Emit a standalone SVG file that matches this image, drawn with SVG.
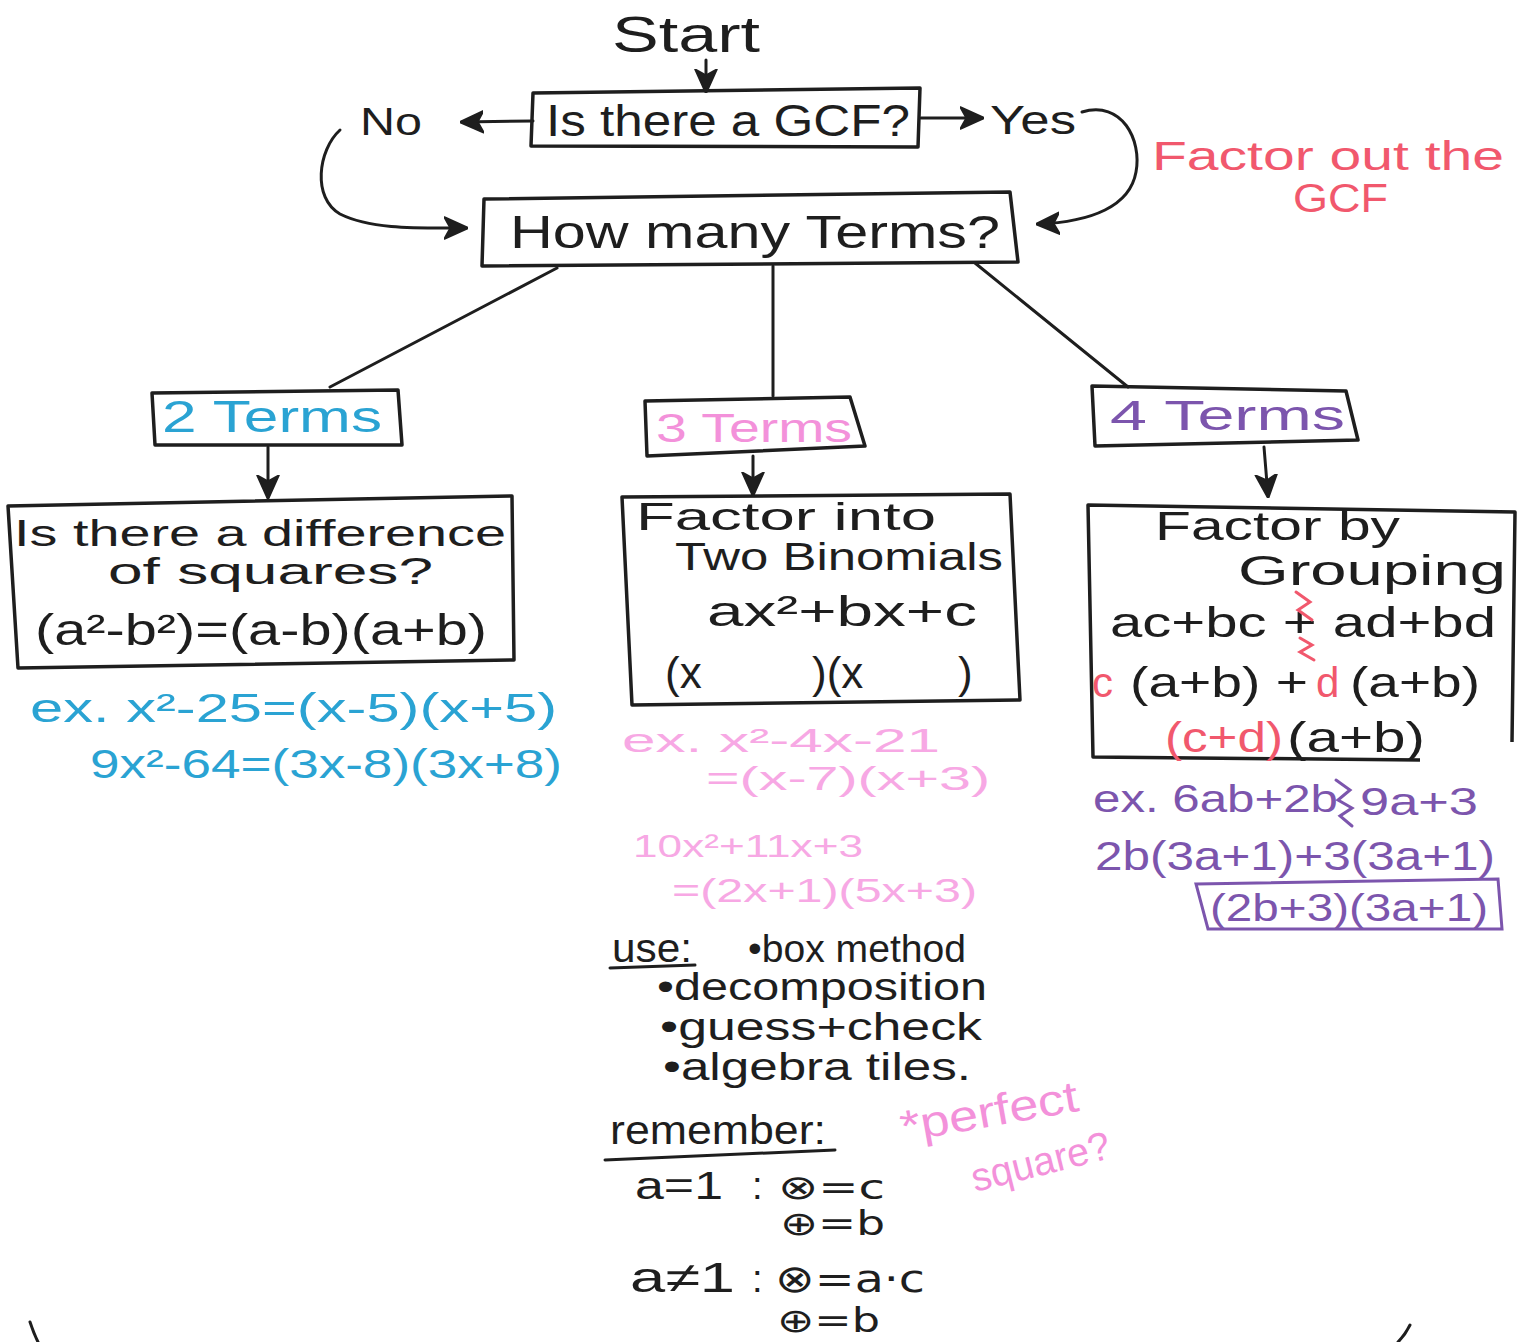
<svg xmlns="http://www.w3.org/2000/svg" width="1517" height="1342" viewBox="0 0 1517 1342">
<style>
.t{font-family:"Liberation Sans","DejaVu Sans",sans-serif;fill:#1e1e1e}
.sym{font-family:"DejaVu Sans","Liberation Sans",sans-serif;fill:#1e1e1e}
.box{fill:none;stroke:#1e1e1e;stroke-width:3.5;stroke-linejoin:round}
.con{fill:none;stroke:#1e1e1e;stroke-width:3;stroke-linecap:round}
.cy{fill:#2aa3d3}
.pk{fill:#f391da}
.lp{fill:#f7a8e4}
.rd{fill:#f1586d}
.pu{fill:#7c55ad}
</style>
<defs>
<marker id="ah" viewBox="0 0 10 10" refX="9" refY="5" markerWidth="24" markerHeight="24" markerUnits="userSpaceOnUse" orient="auto">
<path d="M0,0.5 L10,5 L0,9.5 L2.5,5 z" fill="#1e1e1e" stroke="#1e1e1e" stroke-width="0.8" stroke-linejoin="round"/>
</marker>
</defs>
<rect width="1517" height="1342" fill="#ffffff"/>

<g id="connectors">
<path class="con" d="M706,60 L706,91" marker-end="url(#ah)"/>
<path class="con" d="M533,121 L462,122" marker-end="url(#ah)"/>
<path class="con" d="M921,118 L982,118" marker-end="url(#ah)"/>
<path class="con" d="M340,130 C318,150 312,198 340,214 C372,230 420,228 466,228" marker-end="url(#ah)"/>
<path class="con" d="M1082,112 C1122,100 1142,140 1136,172 C1130,206 1092,222 1038,224" marker-end="url(#ah)"/>
<path class="con" d="M557,268 L330,387"/>
<path class="con" d="M773,266 L773,396"/>
<path class="con" d="M975,263 L1128,387"/>
<path class="con" d="M268,447 L268,497" marker-end="url(#ah)"/>
<path class="con" d="M753,456 L753,494" marker-end="url(#ah)"/>
<path class="con" d="M1264,447 L1268,496" marker-end="url(#ah)"/>
</g>

<g id="start">
<text class="t" x="612" y="52" font-size="50" textLength="148" lengthAdjust="spacingAndGlyphs">Start</text>
</g>

<g id="gcf">
<polygon class="box" points="533,93 920,88 918,147 531,146"/>
<text class="t" x="546" y="136" font-size="44" textLength="364" lengthAdjust="spacingAndGlyphs">Is there a GCF?</text>
</g>

<g id="no">
<text class="t" x="360" y="135" font-size="38" textLength="62" lengthAdjust="spacingAndGlyphs">No</text>
</g>

<g id="yes">
<text class="t" x="990" y="134" font-size="40" textLength="86" lengthAdjust="spacingAndGlyphs">Yes</text>
</g>

<g id="factor-out">
<text class="t rd" x="1152" y="170" font-size="40" textLength="352" lengthAdjust="spacingAndGlyphs">Factor out the</text>
<text class="t rd" x="1293" y="212" font-size="40" textLength="95" lengthAdjust="spacingAndGlyphs">GCF</text>
</g>

<g id="how-many">
<polygon class="box" points="484,199 1010,192 1018,262 482,266"/>
<text class="t" x="510" y="248" font-size="46" textLength="490" lengthAdjust="spacingAndGlyphs">How many Terms?</text>
</g>

<g id="two-terms">
<polygon class="box" points="152,393 398,390 402,445 155,445"/>
<text class="t cy" x="162" y="432" font-size="44" textLength="220" lengthAdjust="spacingAndGlyphs">2 Terms</text>
</g>

<g id="three-terms">
<polygon class="box" points="645,401 850,397 865,446 647,456"/>
<text class="t pk" x="656" y="442" font-size="40" textLength="196" lengthAdjust="spacingAndGlyphs">3 Terms</text>
</g>

<g id="four-terms">
<polygon class="box" points="1092,386 1346,391 1358,440 1095,446"/>
<text class="t pu" x="1110" y="430" font-size="42" textLength="235" lengthAdjust="spacingAndGlyphs">4 Terms</text>
</g>

<g id="diff-squares">
<polygon class="box" points="8,506 512,496 514,660 18,668"/>
<text class="t" x="14" y="546" font-size="37" textLength="492" lengthAdjust="spacingAndGlyphs">Is there a difference</text>
<text class="t" x="108" y="584" font-size="36" textLength="325" lengthAdjust="spacingAndGlyphs">of squares?</text>
<text class="t" x="35" y="645" font-size="44" textLength="452" lengthAdjust="spacingAndGlyphs">(a²-b²)=(a-b)(a+b)</text>
</g>

<g id="two-terms-examples">
<text class="t cy" x="30" y="722" font-size="40" textLength="527" lengthAdjust="spacingAndGlyphs">ex. x²-25=(x-5)(x+5)</text>
<text class="t cy" x="90" y="778" font-size="40" textLength="472" lengthAdjust="spacingAndGlyphs">9x²-64=(3x-8)(3x+8)</text>
</g>

<g id="binomials">
<polygon class="box" points="622,497 1010,494 1020,700 632,705"/>
<text class="t" x="636" y="530" font-size="38" textLength="300" lengthAdjust="spacingAndGlyphs">Factor  into</text>
<text class="t" x="675" y="570" font-size="38" textLength="328" lengthAdjust="spacingAndGlyphs">Two Binomials</text>
<text class="t" x="707" y="626" font-size="42" textLength="270" lengthAdjust="spacingAndGlyphs">ax²+bx+c</text>
<text class="t" x="665" y="688" font-size="44">(x</text>
<text class="t" x="812" y="688" font-size="44">)(x</text>
<text class="t" x="958" y="688" font-size="44">)</text>
</g>

<g id="three-terms-examples">
<text class="t lp" x="622" y="752" font-size="34" textLength="318" lengthAdjust="spacingAndGlyphs">ex. x²-4x-21</text>
<text class="t lp" x="706" y="790" font-size="34" textLength="284" lengthAdjust="spacingAndGlyphs">=(x-7)(x+3)</text>
<text class="t lp" x="633" y="857" font-size="32" textLength="230" lengthAdjust="spacingAndGlyphs">10x²+11x+3</text>
<text class="t lp" x="672" y="902" font-size="34" textLength="305" lengthAdjust="spacingAndGlyphs">=(2x+1)(5x+3)</text>
</g>

<g id="use-methods">
<text class="t" x="612" y="962" font-size="40" textLength="80" lengthAdjust="spacingAndGlyphs">use:</text>
<path class="con" d="M610,968 L695,965"/>
<text class="t" x="748" y="962" font-size="38" textLength="218" lengthAdjust="spacingAndGlyphs">•box method</text>
<text class="t" x="657" y="1000" font-size="38" textLength="330" lengthAdjust="spacingAndGlyphs">•decomposition</text>
<text class="t" x="660" y="1040" font-size="38" textLength="322" lengthAdjust="spacingAndGlyphs">•guess+check</text>
<text class="t" x="663" y="1080" font-size="38" textLength="308" lengthAdjust="spacingAndGlyphs">•algebra tiles.</text>
</g>

<g id="remember">
<text class="t" x="610" y="1144" font-size="40" textLength="216" lengthAdjust="spacingAndGlyphs">remember:</text>
<path class="con" d="M605,1160 L835,1150"/>
<text class="t" x="635" y="1199" font-size="38" textLength="88" lengthAdjust="spacingAndGlyphs">a=1</text>
<text class="t" x="752" y="1199" font-size="38">:</text>
<text class="sym" x="778" y="1199" font-size="34" textLength="107" lengthAdjust="spacingAndGlyphs">⊗=c</text>
<text class="sym" x="780" y="1235" font-size="33" textLength="105" lengthAdjust="spacingAndGlyphs">⊕=b</text>
<text class="t" x="630" y="1292" font-size="42" textLength="105" lengthAdjust="spacingAndGlyphs">a≠1</text>
<text class="t" x="752" y="1292" font-size="38">:</text>
<text class="sym" x="775" y="1292" font-size="38" textLength="150" lengthAdjust="spacingAndGlyphs">⊗=a·c</text>
<text class="sym" x="777" y="1332" font-size="33" textLength="103" lengthAdjust="spacingAndGlyphs">⊕=b</text>
</g>

<g id="perfect-square">
<text class="t pk" x="903" y="1142" font-size="44" textLength="180" lengthAdjust="spacingAndGlyphs" transform="rotate(-10 903 1142)">*perfect</text>
<text class="t pk" x="975" y="1192" font-size="40" textLength="142" lengthAdjust="spacingAndGlyphs" transform="rotate(-14 975 1192)">square?</text>
</g>

<g id="grouping">
<path class="box" d="M1512,742 L1515,512 L1088,505 L1093,757 L1420,760"/>
<text class="t" x="1155" y="540" font-size="40" textLength="245" lengthAdjust="spacingAndGlyphs">Factor by</text>
<text class="t" x="1238" y="585" font-size="42" textLength="268" lengthAdjust="spacingAndGlyphs">Grouping</text>
<text class="t" x="1110" y="637" font-size="42" textLength="386" lengthAdjust="spacingAndGlyphs">ac+bc + ad+bd</text>
<path d="M1296,592 L1310,602 L1298,610 L1312,620 M1300,638 L1312,645 L1300,652 L1314,660" fill="none" stroke="#f1586d" stroke-width="3" stroke-linecap="round"/>
<text class="t rd" x="1092" y="697" font-size="42">c</text>
<text class="t" x="1130" y="697" font-size="42" textLength="178" lengthAdjust="spacingAndGlyphs">(a+b) +</text>
<text class="t rd" x="1316" y="697" font-size="42">d</text>
<text class="t" x="1350" y="697" font-size="42" textLength="130" lengthAdjust="spacingAndGlyphs">(a+b)</text>
<text class="t rd" x="1165" y="752" font-size="42" textLength="118" lengthAdjust="spacingAndGlyphs">(c+d)</text>
<text class="t" x="1287" y="752" font-size="42" textLength="138" lengthAdjust="spacingAndGlyphs">(a+b)</text>
</g>

<g id="four-terms-examples">
<text class="t pu" x="1093" y="812" font-size="38" textLength="245" lengthAdjust="spacingAndGlyphs">ex. 6ab+2b</text>
<path d="M1336,780 L1350,790 L1338,800 L1352,808 L1340,816 L1352,826" fill="none" stroke="#7c55ad" stroke-width="3" stroke-linecap="round"/>
<text class="t pu" x="1360" y="815" font-size="38" textLength="118" lengthAdjust="spacingAndGlyphs">9a+3</text>
<text class="t pu" x="1095" y="870" font-size="40" textLength="400" lengthAdjust="spacingAndGlyphs">2b(3a+1)+3(3a+1)</text>
<polygon points="1196,884 1498,879 1502,929 1208,929" fill="none" stroke="#7c55ad" stroke-width="3"/>
<text class="t pu" x="1210" y="921" font-size="38" textLength="278" lengthAdjust="spacingAndGlyphs">(2b+3)(3a+1)</text>
</g>

<path class="con" d="M30,1322 Q34,1334 38,1342"/>
<path class="con" d="M1410,1325 Q1405,1335 1398,1342"/>
</svg>
